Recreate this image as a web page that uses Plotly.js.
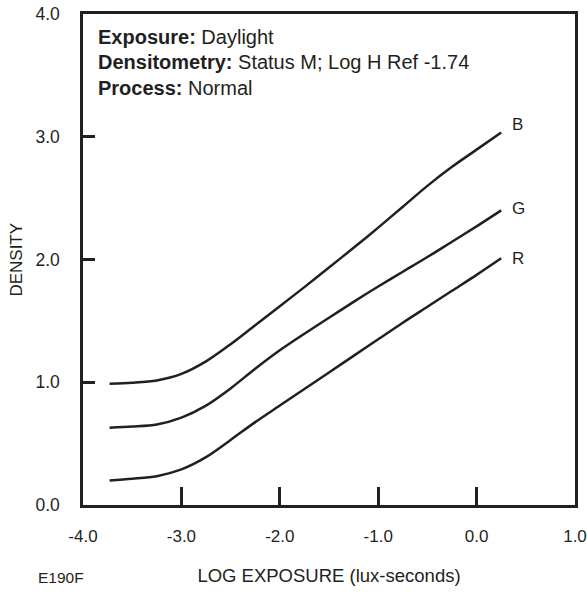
<!DOCTYPE html>
<html>
<head>
<meta charset="utf-8">
<script src="https://cdn.plot.ly/plotly-3.0.1.min.js"></script>
<style>html,body{margin:0;padding:0;background:#fff;}#chart{width:587px;height:593px;}</style>
</head>
<body>
<div id="chart"></div>
<script>
// Data
const logExposure = [-3.73, -3.5, -3.25, -3.0, -2.75, -2.5, -2.25, -2.0, -1.75, -1.5, -1.25, -1.0, -0.75, -0.5, -0.25, 0.0, 0.25];
const densityB = [0.988, 0.996, 1.015, 1.068, 1.17, 1.31, 1.465, 1.62, 1.775, 1.935, 2.095, 2.26, 2.43, 2.60, 2.755, 2.895, 3.035];
const densityG = [0.630, 0.639, 0.656, 0.712, 0.81, 0.95, 1.11, 1.26, 1.395, 1.525, 1.655, 1.78, 1.90, 2.02, 2.145, 2.27, 2.40];
const densityR = [0.200, 0.214, 0.235, 0.290, 0.39, 0.53, 0.675, 0.81, 0.945, 1.08, 1.215, 1.35, 1.485, 1.615, 1.745, 1.875, 2.01];
const seriesNames = ['B', 'G', 'R'];
const xTickVals = [-4, -3, -2, -1, 0, 1];
const xTickText = ['-4.0', '-3.0', '-2.0', '-1.0', '0.0', '1.0'];
const yTickVals = [0, 1, 2, 3, 4];
const yTickText = ['0.0', '1.0', '2.0', '3.0', '4.0'];
const yTitle = 'DENSITY';
const infoLines = [
  ['Exposure:', 'Daylight'],
  ['Densitometry:', 'Status M; Log H Ref -1.74'],
  ['Process:', 'Normal']
];

const ink = '#231f20';
const font = 'Liberation Sans, Arial, Helvetica, sans-serif';
const series = [densityB, densityG, densityR];

const traces = series.map((d, i) => ({
  x: logExposure, y: d, type: 'scatter', mode: 'lines', name: seriesNames[i],
  line: {color: ink, width: 2.5, shape: 'spline', smoothing: 0.9},
  hoverinfo: 'x+y+name'
}));

const labelYShift = [8, 2, 0];
const annotations = series.map((d, i) => ({
  x: logExposure[logExposure.length - 1], y: d[d.length - 1], xref: 'x', yref: 'y',
  text: seriesNames[i], showarrow: false, xanchor: 'left', yanchor: 'middle',
  xshift: 9, yshift: labelYShift[i], font: {family: font, size: 17, color: ink}
}));

infoLines.forEach((ln, i) => {
  annotations.push({
    x: 0.026, y: 0.953 - i * 0.0515, xref: 'paper', yref: 'paper',
    xanchor: 'left', yanchor: 'middle', showarrow: false,
    text: '<b>' + ln[0] + '</b> ' + ln[1],
    font: {family: font, size: 20, color: ink}
  });
});

annotations.push({
  x: -0.095, y: -0.147, xref: 'paper', yref: 'paper', xanchor: 'left', yanchor: 'middle',
  showarrow: false, text: 'E190F', font: {family: font, size: 15.5, color: ink}
});

annotations.push({
  x: -0.136, y: 0.5, xref: 'paper', yref: 'paper', xanchor: 'center', yanchor: 'middle',
  showarrow: false, text: yTitle, textangle: -90, font: {family: font, size: 17, color: ink}
});

const layout = {
  width: 587, height: 593,
  margin: {l: 83, r: 12, t: 13.5, b: 87.5},
  paper_bgcolor: '#fff', plot_bgcolor: '#fff',
  showlegend: false,
  font: {family: font, size: 17, color: ink},
  xaxis: {
    range: [-4, 1], tickvals: xTickVals, ticktext: xTickText,
    ticks: 'inside', ticklen: 18, tickwidth: 2.5, tickcolor: ink,
    showline: true, linewidth: 2.5, linecolor: ink, mirror: true,
    showgrid: false, zeroline: false, ticklabelstandoff: 14,
    ticklabeloverflow: 'allow',
    tickfont: {family: font, size: 17, color: ink},
    title: {text: 'LOG EXPOSURE (lux-seconds)', font: {family: font, size: 18.5, color: ink}, standoff: 24}
  },
  yaxis: {
    range: [0, 4], tickvals: yTickVals, ticktext: yTickText,
    ticks: 'inside', ticklen: 12, tickwidth: 2.5, tickcolor: ink,
    showline: true, linewidth: 2.5, linecolor: ink, mirror: true,
    showgrid: false, zeroline: false, ticklabelstandoff: 17,
    ticklabeloverflow: 'allow',
    tickfont: {family: font, size: 17.5, color: ink}
  },
  annotations: annotations
};

Plotly.newPlot('chart', traces, layout, {displayModeBar: false});
</script>
</body>
</html>
